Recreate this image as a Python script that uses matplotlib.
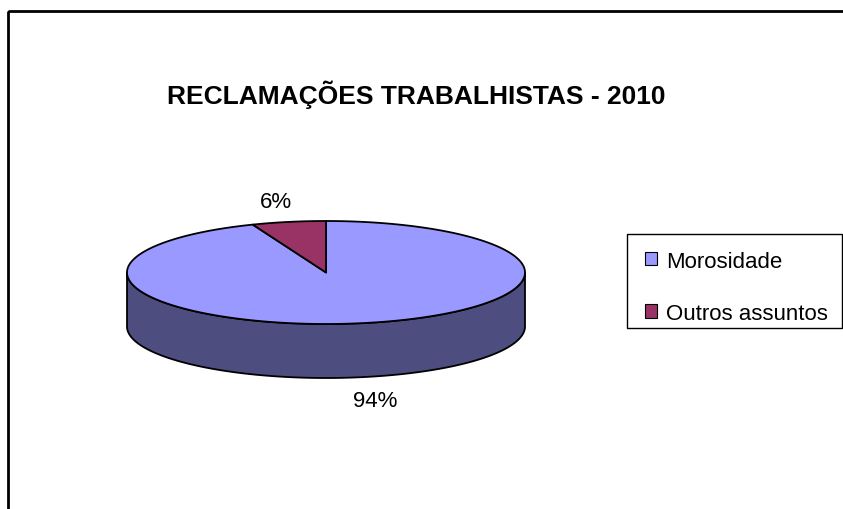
import numpy as np
import matplotlib.pyplot as plt
from matplotlib.patches import Polygon, Rectangle

title = "RECLAMAÇÕES TRABALHISTAS - 2010"
categories = ["Morosidade", "Outros assuntos"]
values = [94, 6]
top_colors = ["#9999FF", "#993366"]
side_colors = ["#4D4D80", "#4D1A33"]

plt.rcParams["font.family"] = ["Liberation Sans", "DejaVu Sans"]

fig = plt.figure(figsize=(8.43, 5.10), dpi=100)
ax = fig.add_axes([0, 0, 1, 1])
ax.set_xlim(0, 843)
ax.set_ylim(510, 0)
ax.axis("off")

# chart frame
ax.add_patch(Rectangle((8, 12), 900, 600, fill=False, lw=2, ec="black"))

# 3D pie geometry (ellipse centre, radii and extrusion depth)
cx, cy, rx, ry, depth = 326, 273.5, 199, 51.5, 54


def ell(theta, dy=0.0):
    return np.column_stack([cx + rx * np.cos(theta), cy - ry * np.sin(theta) + dy])


fracs = np.array(values, dtype=float) / sum(values)
starts = np.pi / 2 - 2 * np.pi * np.concatenate([[0], np.cumsum(fracs)[:-1]])
ends = starts - 2 * np.pi * fracs

# side walls: front-facing part of each slice's rim
for s, e, col in zip(starts, ends, side_colors):
    th = np.linspace(e, s, 600)
    front = np.sin(th) <= 0
    if not front.any():
        continue
    idx = np.where(front)[0]
    runs = np.split(idx, np.where(np.diff(idx) > 1)[0] + 1)
    for r in runs:
        t = th[r]
        pts = np.vstack([ell(t), ell(t[::-1], depth)])
        ax.add_patch(Polygon(pts, closed=True, fc=col, ec="black", lw=1.3, joinstyle="round"))

# top faces
for s, e, col in zip(starts, ends, top_colors):
    th = np.linspace(s, e, 600)
    pts = np.vstack([[cx, cy], ell(th)])
    ax.add_patch(Polygon(pts, closed=True, fc=col, ec="black", lw=1.3, joinstyle="round"))

# percentage labels outside the rim
for s, e, v in zip(starts, ends, values):
    mid = (s + e) / 2
    x = cx + 1.33 * rx * np.cos(mid)
    y = cy - 1.41 * ry * np.sin(mid) + (depth + 3 if np.sin(mid) < 0 else 0)
    ax.text(x, y, f"{v}%", ha="center", va="center", fontsize=16)

ax.text(416.5, 104, title, ha="center", va="baseline", fontsize=19, fontweight="bold")

# legend box and entries
ax.add_patch(Rectangle((627, 235), 215, 94, fill=False, lw=1, ec="black"))
handles = [Rectangle((0, 0), 1, 1, fc=c, ec="black", lw=0.8) for c in top_colors]
leg = fig.legend(handles, categories, loc="upper left",
                 bbox_to_anchor=(645 / 843, 1 - 251.5 / 510), frameon=False,
                 prop={"size": 16}, handlelength=0.55, handleheight=0.55,
                 handletextpad=0.4, labelspacing=1.41, borderpad=0, borderaxespad=0)

fig.savefig("out.png", dpi=100)
